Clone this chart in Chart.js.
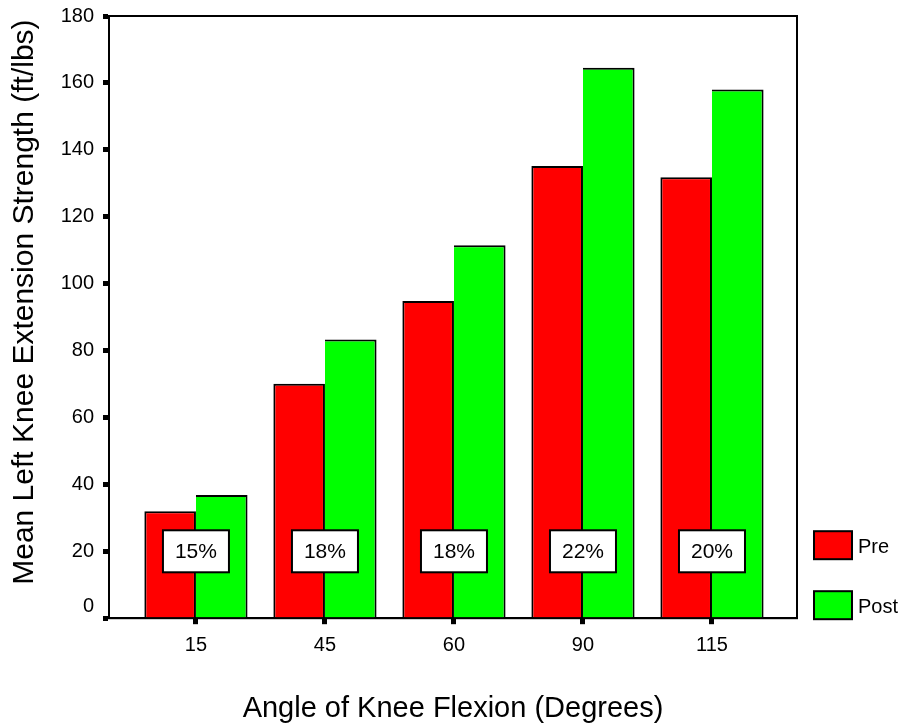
<!DOCTYPE html>
<html>
<head>
<meta charset="utf-8">
<script src="https://cdn.jsdelivr.net/npm/chart.js@4/dist/chart.umd.min.js"></script>
<style>
  html, body { margin: 0; padding: 0; background: #fff; }
  #wrap { width: 903px; height: 728px; }
</style>
</head>
<body>
<div id="wrap"><canvas id="myChart" width="903" height="728"></canvas></div>
<script>
// DATA
const categories = ["15", "45", "60", "90", "115"];
const preValues = [32.0, 70.1, 94.8, 135.2, 131.8];
const postValues = [36.8, 83.3, 111.5, 164.5, 158.0];
const pctLabels = ["15%", "18%", "18%", "22%", "20%"];
const yTicks = [0, 20, 40, 60, 80, 100, 120, 140, 160, 180];
const seriesNames = ["Pre", "Post"];
const seriesColors = ["#ff0000", "#00ff00"];
const yTitle = "Mean Left Knee Extension Strength (ft/lbs)";
const xTitle = "Angle of Knee Flexion (Degrees)";

const FONT = "'Liberation Sans', Arial, sans-serif";
Chart.defaults.font.family = FONT;
Chart.defaults.color = "#000";

// frame, percentage boxes, legend and y title
const extras = {
  id: "extras",
  afterDatasetsDraw(chart) {
    const ctx = chart.ctx;
    const area = chart.chartArea;
    const xs = chart.scales.x;
    const ys = chart.scales.y;

    ctx.save();
    ctx.strokeStyle = "#000";
    ctx.lineWidth = 2;
    ctx.strokeRect(area.left, area.top, area.right - area.left, area.bottom - area.top);

    // percentage boxes at value 20
    ctx.font = "21px " + FONT;
    ctx.textAlign = "center";
    ctx.textBaseline = "middle";
    pctLabels.forEach((lbl, i) => {
      const cx = xs.getPixelForValue(i);
      const cy = ys.getPixelForValue(20);
      ctx.fillStyle = "#fff";
      ctx.fillRect(cx - 33, cy - 21, 66, 42);
      ctx.strokeRect(cx - 33, cy - 21, 66, 42);
      ctx.fillStyle = "#000";
      ctx.fillText(lbl, cx, cy + 1);
    });

    // legend
    ctx.font = "20px " + FONT;
    ctx.textAlign = "left";
    seriesNames.forEach((name, i) => {
      const bx = area.right + 17;
      const by = area.bottom - 87 + i * 60;
      ctx.fillStyle = seriesColors[i];
      ctx.fillRect(bx, by, 38, 28);
      ctx.strokeRect(bx, by, 38, 28);
      ctx.fillStyle = "#000";
      ctx.fillText(name, bx + 44, by + 16);
    });

    // y axis title
    ctx.font = "30px " + FONT;
    ctx.textAlign = "center";
    ctx.translate(25, (area.top + area.bottom) / 2 - 15);
    ctx.rotate(-Math.PI / 2);
    ctx.fillText(yTitle, 0, 0);
    ctx.restore();
  }
};

new Chart("myChart", {
  type: "bar",
  data: {
    datasets: [
      {
        label: seriesNames[0],
        data: preValues.map((v, i) => ({ x: i, y: v })),
        backgroundColor: seriesColors[0],
        borderColor: "#000",
        borderWidth: 2
      },
      {
        label: seriesNames[1],
        data: postValues.map((v, i) => ({ x: i, y: v })),
        backgroundColor: seriesColors[1],
        borderColor: "#000",
        borderWidth: { top: 2, right: 2, left: 0, bottom: 0 }
      }
    ]
  },
  options: {
    responsive: false,
    animation: false,
    devicePixelRatio: 1,
    categoryPercentage: 0.8,
    barPercentage: 1.0,
    layout: { padding: { left: 0, right: 106, top: 16, bottom: 0 } },
    plugins: {
      legend: { display: false },
      tooltip: { enabled: false }
    },
    scales: {
      x: {
        type: "linear",
        offset: false,
        min: -0.674,
        max: 4.659,
        afterBuildTicks: (scale) => {
          scale.ticks = categories.map((c, i) => ({ value: i }));
        },
        ticks: {
          font: { size: 20 },
          padding: 9,
          autoSkip: false,
          maxRotation: 0,
          callback: (v) => categories[v]
        },
        grid: {
          offset: false,
          drawOnChartArea: false,
          drawTicks: true,
          tickLength: 6,
          tickWidth: 5,
          tickColor: "#000"
        },
        border: { display: true, color: "#000", width: 2 },
        title: {
          display: true,
          text: xTitle,
          font: { size: 29 },
          padding: { top: 25, bottom: 2 }
        }
      },
      y: {
        min: 0,
        max: 180,
        afterBuildTicks: (scale) => {
          scale.ticks = yTicks.map((v) => ({ value: v }));
        },
        afterFit: (scale) => {
          scale.width = 109;
          scale.paddingTop = 0;
          scale.paddingBottom = 0;
        },
        ticks: {
          font: { size: 20 },
          padding: 9,
          // the zero label sits a little above its tick
          callback: (v) => (v === 0 ? ["0", ""] : String(v))
        },
        grid: {
          drawOnChartArea: false,
          drawTicks: true,
          tickLength: 6,
          tickWidth: 5,
          tickColor: "#000"
        },
        border: { display: true, color: "#000", width: 2 }
      }
    }
  },
  plugins: [extras]
});
</script>
</body>
</html>
